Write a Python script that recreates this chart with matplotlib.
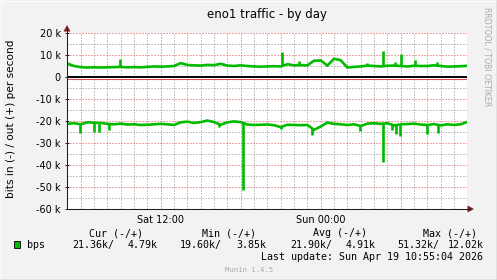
import numpy as np
import matplotlib as mpl
mpl.use('agg')
import matplotlib.pyplot as plt
import matplotlib.ticker as mticker
import matplotlib.transforms as mtransforms
from matplotlib.lines import Line2D
from matplotlib.patches import Polygon

# time in hours from Sat 00:00, values in k bits/s
base_t = 5.0 + 0.5 * np.arange(61)
out_base = [6.1, 5.0, 4.5, 4.3, 4.4, 4.3, 4.4, 4.5, 4.6, 4.4, 4.5, 4.4, 4.6, 4.8, 4.7,
            4.8, 5.0, 6.3, 5.5, 5.3, 5.2, 5.5, 5.4, 6.0, 5.2, 5.0, 5.3, 5.0, 4.8, 4.7,
            4.8, 4.9, 4.8, 5.8, 5.3, 5.4, 5.3, 7.4, 7.5, 5.2, 8.3, 7.6, 4.3, 4.6, 4.8,
            5.2, 5.0, 4.8, 5.1, 5.2, 5.0, 4.8, 5.1, 5.0, 5.0, 5.3, 5.0, 4.7, 4.8, 4.9, 5.1]
in_base = [-21.3, -21.0, -21.5, -20.6, -20.8, -20.9, -21.3, -21.5, -21.2, -21.6,
           -21.5, -21.8, -21.7, -21.5, -21.3, -21.5, -21.8, -20.6, -20.3, -20.9,
           -20.5, -19.8, -20.5, -21.7, -20.6, -20.2, -20.5, -21.6, -21.8, -21.7,
           -21.6, -21.9, -22.8, -21.7, -21.8, -21.9, -21.8, -24.0, -22.5, -20.7,
           -21.3, -21.5, -21.8, -21.5, -22.3, -21.2, -21.0, -21.3, -21.0, -22.0,
           -21.5, -21.4, -21.2, -21.6, -21.8, -21.4, -22.0, -21.5, -21.8, -21.5, -20.4]
out_spike_t = [8.97, 21.07, 22.4, 27.45, 28.67, 29.57, 30.02, 31.05, 32.7]
out_spike_v = [8.1, 11.4, 7.3, 6.2, 12.0, 6.7, 10.3, 7.9, 6.6]
in_spike_t = [5.97, 7.02, 7.4, 8.09, 16.37, 18.2, 21.02, 23.33, 26.95, 28.7, 29.33,
              29.65, 29.95, 31.95, 32.82]
in_spike_v = [-25.6, -25.0, -24.8, -24.0, -22.8, -51.3, -23.8, -26.3, -24.5, -38.8,
              -24.0, -26.0, -26.8, -26.0, -25.6]

y_ticks = [-60, -50, -40, -30, -20, -10, 0, 10, 20]
x_ticks = [6, 12, 18, 24, 30]
x_labels = ['', 'Sat 12:00', '', 'Sun 00:00', '']

legend_head = [('Cur (-/+)', 89.3), ('Min (-/+)', 201.7), ('Avg (-/+)', 312.7), ('Max (-/+)', 423.3)]
legend_vals = [('21.36k/', 72.7), ('4.79k', 128), ('19.60k/', 180), ('3.85k', 236.7),
               ('21.90k/', 290), ('4.91k', 345.7), ('51.32k/', 397.3), ('12.02k', 447.3)]

W, H = 497, 280
green = '#00BB00'
back = '#F2F2F2'
axis_c = '#1F1F1F'
arrow_c = '#801F1F'
mgrid = (0.87, 0.31, 0.31, 0.6)
grid_c = (0.56, 0.56, 0.56, 0.6)


def fx(x):
    return x / W


def fy(y):
    return 1 - y / H


fig = plt.figure(figsize=(W / 100, H / 100), dpi=100, facecolor=back)
ax = fig.add_axes([fx(67), fy(209), 400 / W, 176 / H])
ax.set_facecolor('white')

t0 = 12 - (160.7 - 67) / (80 / 6)
ax.set_xlim(t0, t0 + 30)
ax.set_ylim(-60, 20)

ax.xaxis.set_major_locator(mticker.FixedLocator(x_ticks))
ax.xaxis.set_major_formatter(mticker.FixedFormatter(x_labels))
ax.xaxis.set_minor_locator(mticker.MultipleLocator(1))
ax.yaxis.set_major_locator(mticker.FixedLocator(y_ticks))
ax.yaxis.set_major_formatter(mticker.FuncFormatter(lambda v, p: '0' if v == 0 else '%d k' % v))
ax.yaxis.set_minor_locator(mticker.MultipleLocator(5))

ax.grid(which='major', color=mgrid, lw=0.72, ls=(0, (1, 2)))
ax.grid(which='minor', color=grid_c, lw=0.72, ls=(0, (1, 2)))
ax.set_axisbelow(True)

ax.tick_params(axis='x', which='both', length=0, pad=4, labelsize=7)
ax.tick_params(axis='y', which='major', length=3, width=0.7, direction='inout',
               color=axis_c, pad=3, labelsize=7)
ax.tick_params(axis='y', which='minor', length=0)
for s in ax.spines.values():
    s.set_visible(False)

# series
ax.plot(base_t, out_base, color=green, lw=1.9, solid_joinstyle='miter')
ax.plot(base_t, in_base, color=green, lw=1.9, solid_joinstyle='miter')
ax.vlines(out_spike_t, np.interp(out_spike_t, base_t, out_base), out_spike_v, color=green, lw=1.9)
ax.vlines(in_spike_t, np.interp(in_spike_t, base_t, in_base), in_spike_v, color=green, lw=1.9)

# zero rule
off = mtransforms.ScaledTranslation(0, -1.5 / 100, fig.dpi_scale_trans)
ax.plot([0, 1], [0, 0], transform=ax.get_yaxis_transform() + off, color='#E05050', lw=0.8)
ax.axhline(0, color='black', lw=1.4)

# axes with arrows
fig.add_artist(Line2D([fx(67), fx(470)], [fy(209), fy(209)], color=axis_c, lw=0.75))
fig.add_artist(Line2D([fx(67), fx(67)], [fy(209), fy(29)], color=axis_c, lw=0.75))
fig.add_artist(Polygon([(fx(474), fy(209)), (fx(467.5), fy(205.5)), (fx(467.5), fy(212.5))],
                       closed=True, color=arrow_c, lw=0))
fig.add_artist(Polygon([(fx(67), fy(25)), (fx(63.5), fy(31.5)), (fx(70.5), fy(31.5))],
                       closed=True, color=arrow_c, lw=0))

# texts
fig.text(fx(267), fy(18.3), 'eno1 traffic - by day', ha='center', va='baseline', fontsize=8.5)
fig.text(fx(11), fy(119), 'bits in (-) / out (+) per second', rotation=90,
         ha='center', va='center', fontsize=7.6)
fig.text(fx(487.5), fy(57), 'RRDTOOL / TOBI OETIKER', rotation=-90, ha='center', va='center',
         fontsize=5.6, color='#AAAAAA')

mono = 'DejaVu Sans Mono'
for s, x in legend_head:
    fig.text(fx(x), fy(236), s, family=mono, fontsize=7.2, va='baseline')
for s, x in legend_vals:
    fig.text(fx(x), fy(248.3), s, family=mono, fontsize=7.2, va='baseline')
fig.text(fx(26.7), fy(248.3), 'bps', family=mono, fontsize=7.2, va='baseline')
fig.patches.append(plt.Rectangle((fx(13.5), fy(247.5)), 6.5 / W, 6.5 / H, transform=fig.transFigure,
                                 facecolor=green, edgecolor='black', lw=0.6))
fig.text(fx(483.3), fy(260), 'Last update: Sun Apr 19 10:55:04 2026', family=mono,
         fontsize=7.2, ha='right', va='baseline')
fig.text(fx(248.7), fy(271.7), 'Munin 1.4.5', family=mono, fontsize=5.2, ha='center',
         va='baseline', color='#AAAAAA')

# 3d frame
fig.add_artist(Line2D([0, 1], [fy(0.5), fy(0.5)], color='#FCFCFC', lw=1))
fig.add_artist(Line2D([fx(0.5), fx(0.5)], [0, 1], color='#FCFCFC', lw=1))
fig.add_artist(Line2D([0, 1], [fy(279.5), fy(279.5)], color='#9E9E9E', lw=1))
fig.add_artist(Line2D([fx(496.5), fx(496.5)], [0, 1], color='#9E9E9E', lw=1))

fig.savefig('out.png', dpi=100, facecolor=back)
